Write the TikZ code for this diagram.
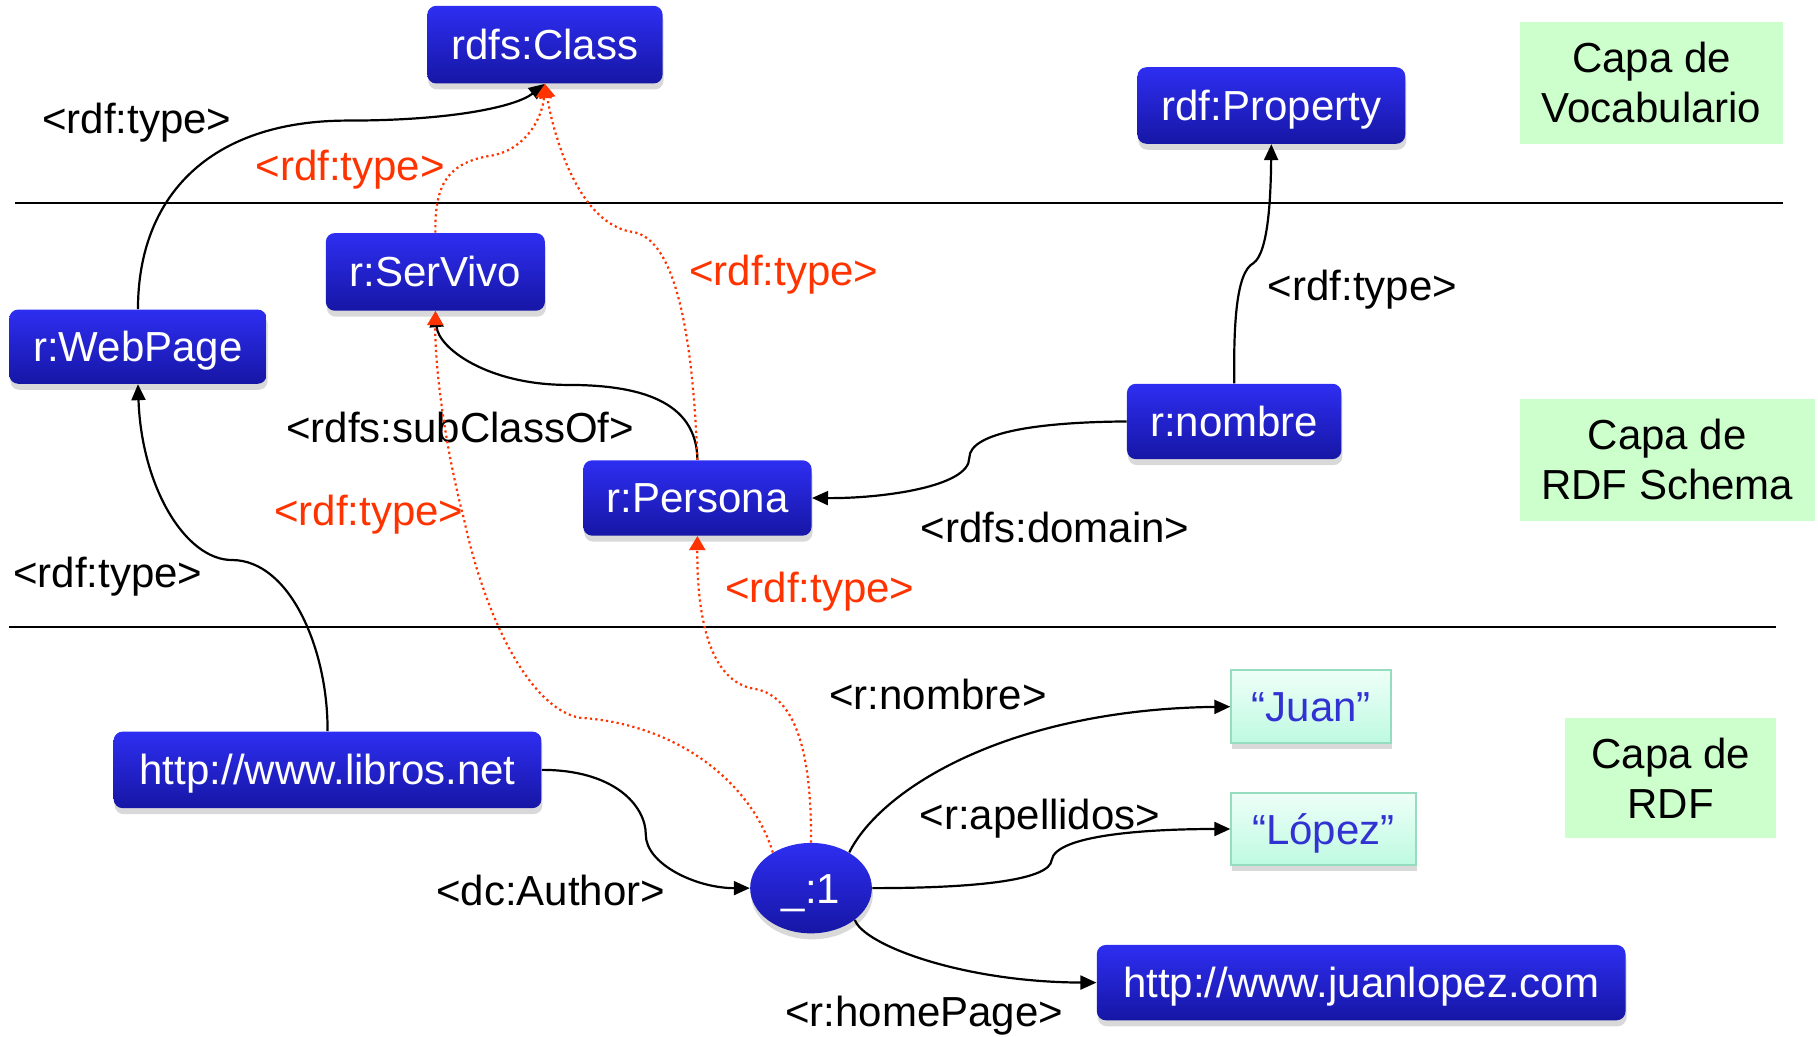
\documentclass[tikz,border=0pt]{standalone}
\usepackage{fontspec}
\setmainfont{Liberation Sans}
\usetikzlibrary{arrows.meta,shapes.geometric,shadows}
\definecolor{boxtop}{RGB}{46,46,242}
\definecolor{boxbot}{RGB}{22,22,165}
\definecolor{redl}{RGB}{255,51,0}
\definecolor{capa}{RGB}{204,255,204}
\definecolor{littop}{RGB}{238,255,248}
\definecolor{litbot}{RGB}{190,250,225}
\definecolor{litdraw}{RGB}{150,220,190}
\definecolor{littext}{RGB}{50,50,210}
\begin{document}
\begin{tikzpicture}[x=0.5797pt,y=-0.5797pt,
  font=\fontsize{21}{25}\selectfont,
  sz/.style 2 args={minimum width=#1*0.5797pt, minimum height=#2*0.5797pt},
  bluefill/.style={top color=boxtop, bottom color=boxbot, text=white, inner sep=0pt,
    text height=15pt, text depth=0pt,
    drop shadow={shadow xshift=0.5pt,shadow yshift=-3pt,opacity=0.3}},
  res/.style={bluefill, rounded corners=4.5pt},
  bnode/.style={bluefill, ellipse},
  lit/.style={draw=litdraw, line width=1pt, top color=littop, bottom color=litbot,
    text=littext, inner sep=0pt, text height=15pt, text depth=0pt,
    drop shadow={shadow xshift=0.5pt,shadow yshift=-3pt,opacity=0.3}},
  capabox/.style={fill=capa, inner sep=0pt, align=center},
  lbl/.style={inner sep=0pt, text=black},
  rlbl/.style={inner sep=0pt, text=redl},
  arr/.style={-{Triangle[length=8pt,width=7pt]}, line width=1.1pt, black},
  rarr/.style={-{Triangle[length=7pt,width=8pt]}, line width=1.1pt, draw=redl, fill=none,
    dash pattern=on 1.1pt off 1.6pt},
  sep/.style={line width=1.1pt, black}
]
\useasboundingbox (0,0) rectangle (1568,893.6);

% separators
\coordinate (s1a) at (13,175);
\coordinate (s1b) at (1538,175);
\coordinate (s2a) at (8,541);
\coordinate (s2b) at (1532,541);
\draw[sep] (s1a) -- (s1b);
\draw[sep] (s2a) -- (s2b);

% layer boxes
\node[capabox, sz={227}{105}] (cv) at (1424.5,71.5) {Capa de\\Vocabulario};
\node[capabox, sz={254}{105}] (cs) at (1438,396.5) {Capa de\\RDF Schema};
\node[capabox, sz={182}{104}] (cr) at (1441,671) {Capa de\\RDF};

% resource nodes
\node[res, sz={203}{67}] (class) at (470,38.5) {rdfs:Class};
\node[res, sz={231}{66}] (prop) at (1096.5,91) {rdf:Property};
\node[res, sz={189}{67}] (servivo) at (375.5,234.5) {r:SerVivo};
\node[res, sz={222}{64}] (webpage) at (119,299) {r:WebPage};
\node[res, sz={185}{65}] (nombre) at (1064.5,363.5) {r:nombre};
\node[res, sz={197}{65}] (persona) at (601.5,429.5) {r:Persona};
\node[res, sz={369}{66}] (libros) at (282.5,664) {http://www.libros.net};
\node[res, sz={456}{65}] (jl) at (1174,847.5) {http://www.juanlopez.com};
\node[bnode, sz={105}{78}] (b1) at (699.5,766) {\_:1};
\node[lit, sz={138}{63}] (juan) at (1131,609.5) {“Juan”};
\node[lit, sz={159}{62}] (lopez) at (1141.5,715) {“López”};

% labels
\node[lbl] (t1) at (118,106) {<rdf:type>};
\node[rlbl] (t2) at (302,146) {<rdf:type>};
\node[rlbl] (t3) at (676,237) {<rdf:type>};
\node[lbl] (t4) at (1175,250) {<rdf:type>};
\node[lbl] (t5) at (397,369) {<rdfs:subClassOf>};
\node[rlbl] (t6) at (318,444) {<rdf:type>};
\node[lbl] (t7) at (910,455) {<rdfs:domain>};
\node[lbl] (t8) at (93,497) {<rdf:type>};
\node[rlbl] (t9) at (707,510) {<rdf:type>};
\node[lbl] (t10) at (809,599) {<r:nombre>};
\node[lbl] (t11) at (897,706) {<r:apellidos>};
\node[lbl] (t12) at (475,768) {<dc:Author>};
\node[lbl] (t13) at (797,876) {<r:homePage>};

% black connectors
\draw[arr] (webpage.north) .. controls (119,170) and (180,104) .. (300,104)
  .. controls (390,104) and (445,92) .. (class.south);
\draw[arr] (persona.north) .. controls (601,345) and (550,332) .. (490,332)
  .. controls (420,332) and (378,300) .. (servivo.south);
\draw[arr] (nombre.north) .. controls (1064,280) and (1066,235) .. (1081,227)
  .. controls (1094,218) and (1096,170) .. (prop.south);
\draw[arr] (nombre.west) .. controls (900,364) and (836,372) .. (836,395)
  .. controls (836,420) and (760,430) .. (persona.east);
\draw[arr] (libros.north) .. controls (283,560) and (250,483) .. (200,483)
  .. controls (160,483) and (122,420) .. (webpage.south);
\draw[arr] (libros.east) .. controls (530,664) and (557,695) .. (557,720)
  .. controls (557,745) and (600,766) .. (b1.west);
\draw[arr] (b1.43) .. controls (760,680) and (870,612) .. (juan.west);
\draw[arr] (b1.east) .. controls (850,766) and (905,758) .. (907,742)
  .. controls (910,720) and (990,715) .. (lopez.west);
\draw[arr] (b1.-36) .. controls (745,815) and (830,847) .. (jl.west);

% red dotted connectors
\draw[rarr] (servivo.north) .. controls (375,160) and (385,140) .. (425,134)
  .. controls (455,128) and (468,100) .. (class.south);
\draw[rarr] (persona.north) .. controls (598,300) and (585,205) .. (545,200)
  .. controls (500,193) and (478,120) .. (class.south);
\draw[rarr] (b1.137) .. controls (650,680) and (590,625) .. (500,619)
  .. controls (460,612) and (420,540) .. (400,447)
  .. controls (385,390) and (375,320) .. (servivo.south);
\draw[rarr] (b1.north) .. controls (700,660) and (690,600) .. (650,594)
  .. controls (615,588) and (601,540) .. (persona.south);
\end{tikzpicture}
\end{document}
